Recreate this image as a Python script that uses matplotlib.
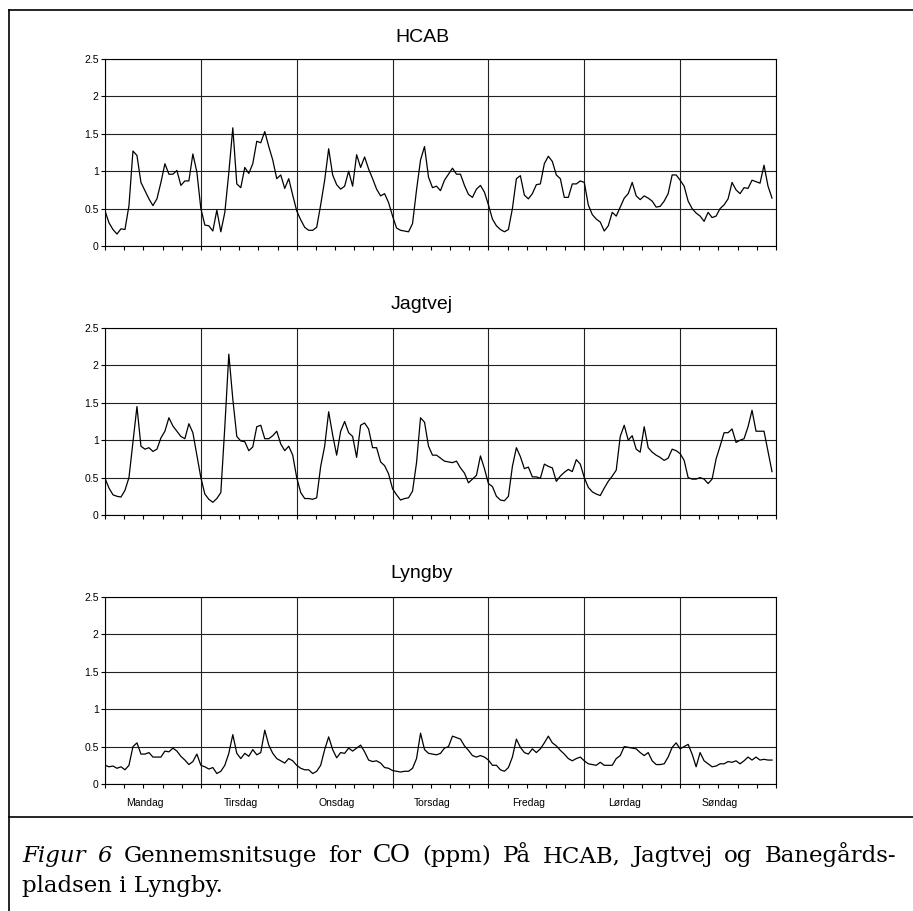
import numpy as np
import matplotlib
matplotlib.use("Agg")
import matplotlib.pyplot as plt
from matplotlib.lines import Line2D
from matplotlib.transforms import IdentityTransform

# Average week of CO (ppm), hourly values, Monday 00 -> Sunday 23
HCAB = [
    0.47, 0.31, 0.22, 0.16, 0.23, 0.22, 0.54, 1.27, 1.21, 0.85, 0.74, 0.63, 0.54, 0.63, 0.85, 1.10, 0.96, 0.96, 1.01, 0.81, 0.87, 0.87, 1.23, 0.99,
    0.50, 0.28, 0.27, 0.20, 0.48, 0.19, 0.45, 0.98, 1.58, 0.83, 0.78, 1.05, 0.97, 1.10, 1.40, 1.38, 1.53, 1.33, 1.15, 0.90, 0.95, 0.77, 0.90, 0.68,
    0.47, 0.35, 0.25, 0.21, 0.21, 0.25, 0.55, 0.88, 1.30, 0.95, 0.82, 0.76, 0.80, 1.00, 0.80, 1.22, 1.05, 1.19, 1.03, 0.90, 0.76, 0.67, 0.70, 0.58,
    0.40, 0.24, 0.21, 0.20, 0.19, 0.30, 0.75, 1.15, 1.33, 0.92, 0.78, 0.80, 0.74, 0.88, 0.96, 1.04, 0.96, 0.96, 0.81, 0.69, 0.65, 0.76, 0.81, 0.72,
    0.55, 0.36, 0.27, 0.22, 0.19, 0.22, 0.50, 0.90, 0.94, 0.68, 0.63, 0.70, 0.82, 0.83, 1.10, 1.20, 1.13, 0.95, 0.90, 0.65, 0.65, 0.83, 0.83, 0.87,
    0.85, 0.55, 0.42, 0.36, 0.32, 0.20, 0.27, 0.45, 0.40, 0.52, 0.64, 0.70, 0.85, 0.67, 0.62, 0.67, 0.64, 0.60, 0.52, 0.53, 0.60, 0.70, 0.95, 0.95,
    0.88, 0.80, 0.60, 0.50, 0.44, 0.40, 0.33, 0.45, 0.38, 0.40, 0.50, 0.55, 0.63, 0.85, 0.75, 0.70, 0.78, 0.77, 0.88, 0.86, 0.84, 1.08, 0.80, 0.64,
]

JAGTVEJ = [
    0.49, 0.36, 0.27, 0.25, 0.24, 0.33, 0.50, 0.98, 1.45, 0.92, 0.88, 0.90, 0.85, 0.88, 1.03, 1.12, 1.30, 1.19, 1.12, 1.05, 1.02, 1.22, 1.10, 0.80,
    0.50, 0.28, 0.21, 0.17, 0.22, 0.30, 1.18, 2.15, 1.55, 1.05, 0.99, 0.98, 0.86, 0.91, 1.18, 1.20, 1.02, 1.02, 1.06, 1.12, 0.95, 0.86, 0.92, 0.80,
    0.50, 0.30, 0.22, 0.22, 0.21, 0.23, 0.65, 0.92, 1.38, 1.07, 0.80, 1.12, 1.25, 1.10, 1.05, 0.77, 1.20, 1.23, 1.15, 0.90, 0.90, 0.71, 0.66, 0.55,
    0.35, 0.27, 0.20, 0.22, 0.23, 0.32, 0.70, 1.30, 1.24, 0.92, 0.80, 0.80, 0.76, 0.72, 0.71, 0.70, 0.72, 0.63, 0.56, 0.43, 0.48, 0.53, 0.79, 0.62,
    0.42, 0.38, 0.25, 0.20, 0.19, 0.25, 0.65, 0.90, 0.78, 0.62, 0.64, 0.51, 0.51, 0.49, 0.68, 0.65, 0.63, 0.45, 0.52, 0.57, 0.61, 0.58, 0.74, 0.68,
    0.50, 0.37, 0.31, 0.28, 0.26, 0.36, 0.45, 0.52, 0.60, 1.05, 1.20, 1.00, 1.06, 0.88, 0.84, 1.18, 0.90, 0.84, 0.80, 0.77, 0.73, 0.76, 0.88, 0.86,
    0.82, 0.73, 0.50, 0.48, 0.48, 0.50, 0.48, 0.42, 0.48, 0.75, 0.92, 1.10, 1.10, 1.15, 0.97, 1.00, 1.02, 1.18, 1.40, 1.12, 1.12, 1.12, 0.85, 0.58,
]

LYNGBY = [
    0.25, 0.23, 0.24, 0.21, 0.23, 0.19, 0.25, 0.50, 0.55, 0.40, 0.40, 0.42, 0.36, 0.36, 0.36, 0.44, 0.43, 0.48, 0.44, 0.37, 0.32, 0.26, 0.30, 0.40,
    0.25, 0.23, 0.20, 0.22, 0.14, 0.17, 0.25, 0.41, 0.66, 0.41, 0.34, 0.41, 0.37, 0.46, 0.39, 0.42, 0.72, 0.52, 0.41, 0.34, 0.31, 0.28, 0.34, 0.31,
    0.25, 0.21, 0.19, 0.19, 0.14, 0.17, 0.25, 0.46, 0.63, 0.46, 0.35, 0.42, 0.41, 0.48, 0.44, 0.48, 0.52, 0.43, 0.32, 0.30, 0.31, 0.28, 0.22, 0.21,
    0.18, 0.17, 0.16, 0.17, 0.17, 0.21, 0.34, 0.68, 0.46, 0.41, 0.40, 0.39, 0.41, 0.48, 0.50, 0.64, 0.62, 0.60, 0.51, 0.45, 0.38, 0.36, 0.38, 0.36,
    0.32, 0.25, 0.25, 0.19, 0.17, 0.22, 0.36, 0.60, 0.49, 0.42, 0.40, 0.47, 0.42, 0.47, 0.55, 0.64, 0.55, 0.51, 0.45, 0.40, 0.34, 0.31, 0.34, 0.36,
    0.31, 0.27, 0.26, 0.25, 0.29, 0.25, 0.25, 0.25, 0.34, 0.38, 0.50, 0.49, 0.48, 0.47, 0.42, 0.38, 0.42, 0.31, 0.26, 0.26, 0.27, 0.36, 0.49, 0.55,
    0.47, 0.50, 0.53, 0.40, 0.23, 0.42, 0.31, 0.27, 0.23, 0.24, 0.27, 0.27, 0.30, 0.29, 0.31, 0.27, 0.31, 0.36, 0.32, 0.36, 0.32, 0.33, 0.32, 0.32,
]

STATIONS = ["HCAB", "Jagtvej", "Lyngby"]
DAYS = ["Mandag", "Tirsdag", "Onsdag", "Torsdag", "Fredag", "Lørdag", "Søndag"]
Y_TICKS = [0, 0.5, 1, 1.5, 2, 2.5]
Y_LABELS = ["0", "0.5", "1", "1.5", "2", "2.5"]

CAPTION_1 = [("Figur", "italic"), ("6", "italic"), ("Gennemsnitsuge", "normal"), ("for", "normal"),
             ("CO", "normal"), ("(ppm)", "normal"), ("På", "normal"), ("HCAB,", "normal"),
             ("Jagtvej", "normal"), ("og", "normal"), ("Banegårds-", "normal")]
CAPTION_2 = "pladsen i Lyngby."

W, H = 913, 911
SANS = ["Liberation Sans", "DejaVu Sans"]
SERIF = ["DejaVu Serif"]

fig = plt.figure(figsize=(W / 100, H / 100), dpi=100)
fig.patch.set_facecolor("white")


def px(x, y):
    """pixel (from top-left) -> figure fraction"""
    return x / W, 1 - y / H


hours = np.arange(len(HCAB))
series = [HCAB, JAGTVEJ, LYNGBY]
panel_tops = [59, 328, 597]
panel_h = 187
ax_left, ax_right = 105, 776
title_base = [42, 309, 578]

minor = [d * 24 + k * 4.8 for d in range(7) for k in range(1, 5)]

for i, (name, values) in enumerate(zip(STATIONS, series)):
    x0, y0 = px(ax_left, panel_tops[i] + panel_h)
    ax = fig.add_axes([x0, y0, (ax_right - ax_left) / W, panel_h / H])
    ax.plot(hours, values, color="black", lw=0.9)
    ax.set_xlim(0, 168)
    ax.set_ylim(0, 2.5)
    ax.set_yticks(Y_TICKS)
    ax.set_yticklabels(Y_LABELS, family=SANS, fontsize=7.5)
    ax.set_xticks(np.arange(0, 169, 24))
    ax.set_xticks(minor, minor=True)
    ax.set_xticklabels([])
    ax.grid(True, which="major", color="#222222", lw=0.8)
    ax.set_axisbelow(True)
    ax.tick_params(which="both", direction="out", length=3, width=0.8, color="black", pad=1.5)
    for s in ax.spines.values():
        s.set_color("black")
        s.set_linewidth(0.8)

    tx, ty = px(422, title_base[i])
    fig.text(tx, ty, name, ha="center", va="baseline", fontsize=14, family=SANS)

    if i == 2:
        for d, day in enumerate(DAYS):
            ax.text(d * 24 + 10, -0.10, day, transform=ax.get_xaxis_transform(),
                    ha="center", va="center", fontsize=7.5, family=SANS)

# outer frame lines
fig.add_artist(Line2D([8.5 / W, 8.5 / W], [0, 1 - 10 / H], color="black", lw=1.2))
fig.add_artist(Line2D([8.5 / W, 1], [1 - 10 / H, 1 - 10 / H], color="black", lw=1.2))
fig.add_artist(Line2D([8.5 / W, 1], [1 - 817 / H, 1 - 817 / H], color="black", lw=1.2))

# caption, first line justified between the margins
renderer = fig.canvas.get_renderer()
cap_size = 16.5
left_px, right_px = 22, 896
base1 = H - 862
texts = []
for word, style in CAPTION_1:
    if word == "CO":
        t = fig.text(0, base1, word, transform=IdentityTransform(), fontsize=cap_size + 3,
                     family=["Liberation Serif"], va="baseline")
    else:
        t = fig.text(0, base1, word, transform=IdentityTransform(), fontsize=cap_size,
                     family=SERIF, style=style, va="baseline")
    texts.append(t)
widths = [t.get_window_extent(renderer).width for t in texts]
gap = (right_px - left_px - sum(widths)) / (len(texts) - 1)
xpos = left_px
for t, w in zip(texts, widths):
    t.set_x(xpos)
    xpos += w + gap

fig.text(left_px, H - 892, CAPTION_2, transform=IdentityTransform(), fontsize=cap_size,
         family=SERIF, va="baseline")

fig.savefig("out.png", dpi=100)
